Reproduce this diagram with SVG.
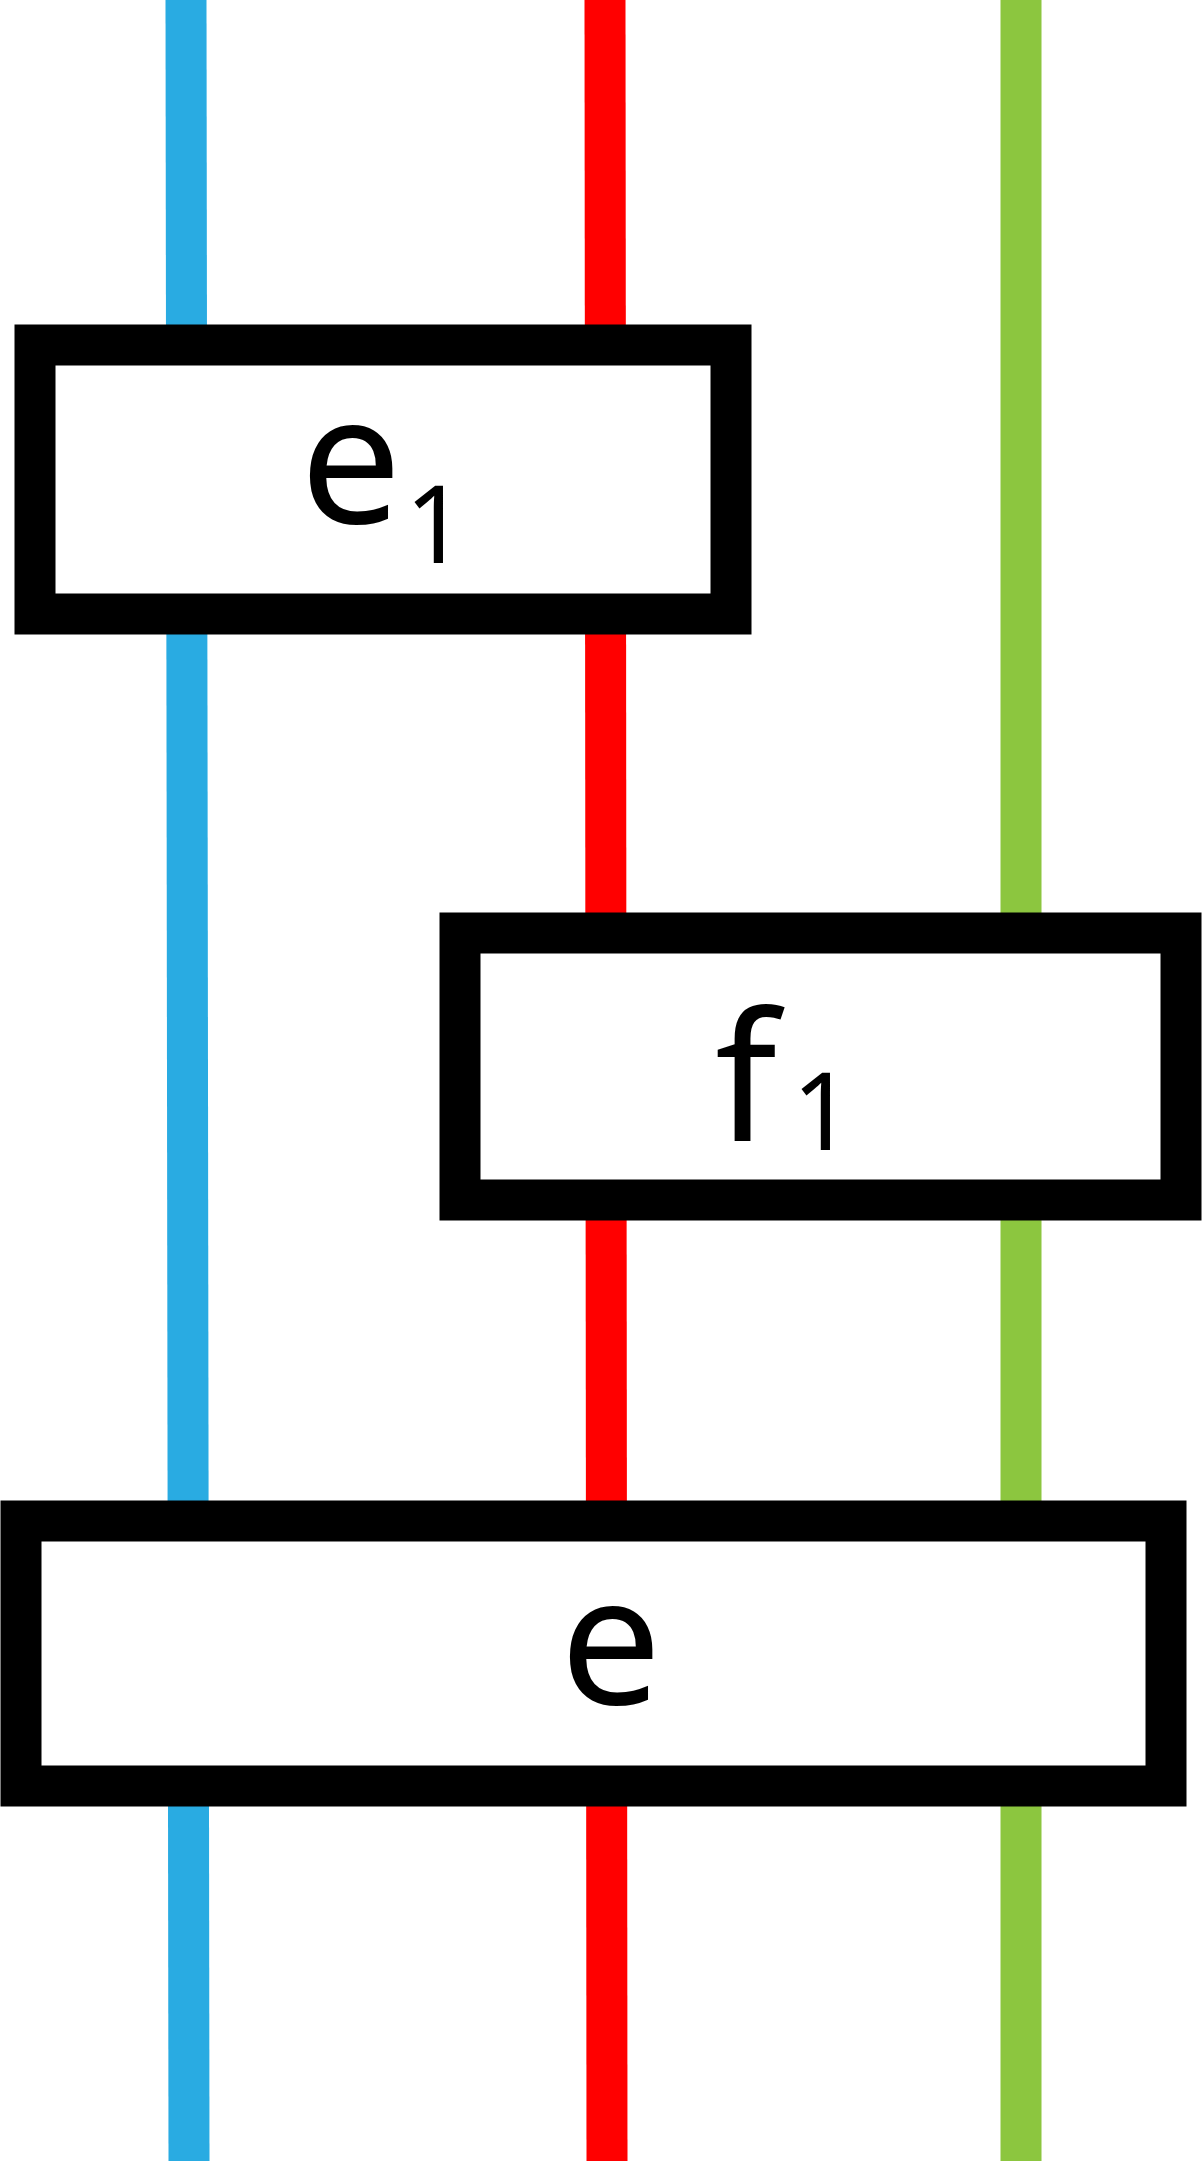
<svg xmlns="http://www.w3.org/2000/svg" width="1203" height="2161" viewBox="0 0 1203 2161">
<style>
.w{stroke-width:41;fill:none}
.b{fill:#fff;stroke:#000;stroke-width:41}
.t{font-family:"Noto Sans","Open Sans",sans-serif;fill:#000}
</style>
<rect width="1203" height="2161" fill="#fff"/>
<g id="connectors">
<line class="w" stroke="#29abe2" x1="186" y1="0" x2="189" y2="2161"/>
<line class="w" stroke="#ff0000" x1="605" y1="0" x2="607" y2="2161"/>
<line class="w" stroke="#8cc63f" x1="1021" y1="0" x2="1021" y2="2161"/>
</g>
<g id="e1"><rect class="b" x="35" y="345" width="696" height="269"/>
<text class="t" x="300" y="523" font-size="180">e</text><text class="t" x="405" y="563" font-size="107">1</text></g>
<g id="f1"><rect class="b" x="460" y="933" width="721" height="267"/>
<text class="t" x="715" y="1141" font-size="180">f</text><text class="t" x="792" y="1150" font-size="107">1</text></g>
<g id="e"><rect class="b" x="21" y="1521" width="1145" height="265"/>
<text class="t" x="560" y="1704" font-size="180">e</text></g>
</svg>
